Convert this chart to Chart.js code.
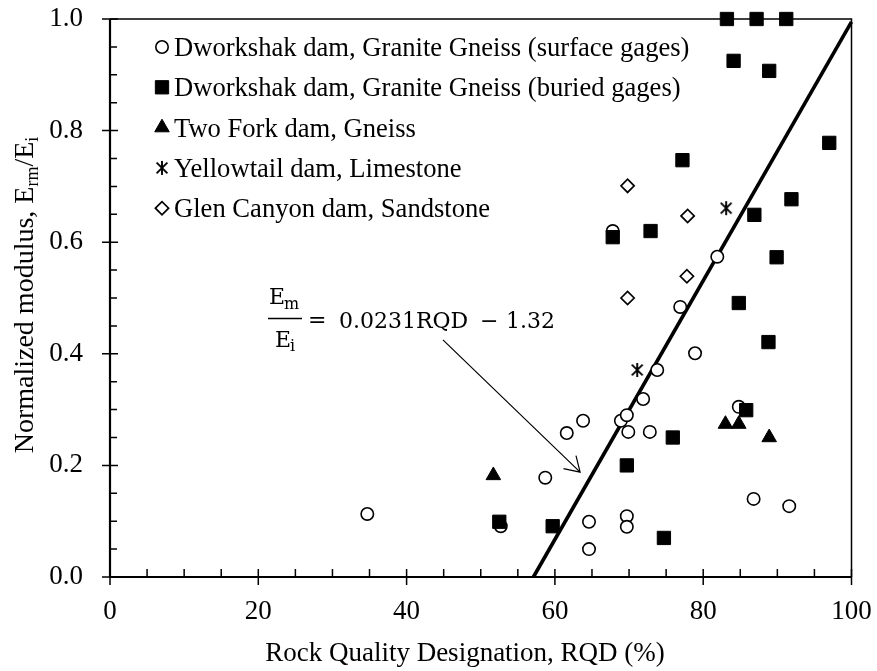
<!DOCTYPE html>
<html>
<head>
<meta charset="utf-8">
<title>Normalized modulus vs RQD</title>
<script src="https://cdn.jsdelivr.net/npm/chart.js@4.4.1/dist/chart.umd.min.js"></script>
<style>
    html, body { margin: 0; padding: 0; background: #fff; }
    #wrap { width: 877px; height: 671px; }
</style>
</head>
<body>
<div id="wrap"><canvas id="rqdChart" width="877" height="671"></canvas></div>
<script>
// values
const surfaceRqd   = [34.7, 52.7, 58.7, 61.6, 63.8, 64.6, 64.6, 67.8, 68.9, 69.7, 69.9, 69.7, 69.7, 71.9, 72.8, 73.8, 76.9, 78.9, 81.9, 84.8, 86.8, 91.6];
const surfaceRatio = [0.113, 0.091, 0.178, 0.258, 0.280, 0.099, 0.050, 0.620, 0.280, 0.290, 0.260, 0.109, 0.090, 0.319, 0.260, 0.371, 0.484, 0.401, 0.574, 0.305, 0.140, 0.127];

const buriedRqd   = [52.5, 59.7, 67.8, 69.7, 72.9, 74.7, 75.9, 77.2, 83.2, 84.1, 84.8, 85.8, 86.9, 87.2, 88.8, 88.9, 89.9, 91.2, 91.9, 97.0];
const buriedRatio = [0.099, 0.091, 0.609, 0.200, 0.620, 0.070, 0.250, 0.747, 1.000, 0.925, 0.491, 0.299, 0.649, 1.000, 0.421, 0.907, 0.573, 1.000, 0.677, 0.778];

const twoForkRqd   = [51.7, 83.0, 84.8, 88.9];
const twoForkRatio = [0.182, 0.274, 0.274, 0.250];

const yellowtailRqd   = [71.1, 83.1];
const yellowtailRatio = [0.371, 0.661];

const glenCanyonRqd   = [69.8, 69.8, 77.8, 77.9];
const glenCanyonRatio = [0.500, 0.701, 0.539, 0.647];

// Em/Ei = 0.0231 RQD - 1.32, drawn between its two ends in the plot
const fitRqd   = [57.1, 100];
const fitRatio = [0.0, 0.995];

const seriesNames = [
    'Dworkshak dam, Granite Gneiss (surface gages)',
    'Dworkshak dam, Granite Gneiss (buried gages)',
    'Two Fork dam, Gneiss',
    'Yellowtail dam, Limestone',
    'Glen Canyon dam, Sandstone'
];

const xTickValues = [0, 20, 40, 60, 80, 100];
const yTickValues = [0, 0.2, 0.4, 0.6, 0.8, 1.0];

const SERIF = '"Liberation Serif", "Times New Roman", serif';
const MATH = '"DejaVu Serif", serif';

function toPoints(xs, ys) {
    return xs.map((x, i) => ({ x: x, y: ys[i] }));
}

// six-armed star marker (X with a vertical bar)
function makeAsterisk() {
    const c = document.createElement('canvas');
    c.width = 18;
    c.height = 18;
    const g = c.getContext('2d');
    g.strokeStyle = '#000';
    g.lineWidth = 1.9;
    g.beginPath();
    g.moveTo(9, 2); g.lineTo(9, 16);
    g.moveTo(3.6, 3.6); g.lineTo(14.4, 14.4);
    g.moveTo(14.4, 3.6); g.lineTo(3.6, 14.4);
    g.stroke();
    return c;
}
const asterisk = makeAsterisk();

const markerStyles = [
    { pointStyle: 'circle', radius: 6.2, borderWidth: 1.6, backgroundColor: '#fff', borderColor: '#000' },
    { pointStyle: 'rect', radius: 9.4, borderWidth: 1, backgroundColor: '#000', borderColor: '#000' },
    { pointStyle: 'triangle', radius: 8.4, borderWidth: 1, backgroundColor: '#000', borderColor: '#000' },
    { pointStyle: asterisk, radius: 7, borderWidth: 1, backgroundColor: '#000', borderColor: '#000' },
    { pointStyle: 'rectRot', radius: 6.6, borderWidth: 1.7, backgroundColor: '#fff', borderColor: '#000' }
];

function scatterSet(i, xs, ys, order) {
    const m = markerStyles[i];
    return {
        label: seriesNames[i],
        data: toPoints(xs, ys),
        showLine: false,
        pointStyle: m.pointStyle,
        pointRadius: m.radius,
        pointHoverRadius: m.radius,
        pointBorderWidth: m.borderWidth,
        pointBackgroundColor: m.backgroundColor,
        pointBorderColor: m.borderColor,
        clip: false,
        order: order
    };
}

// box, crossing major ticks and inward minor ticks
const frameTicks = {
    id: 'frameTicks',
    beforeDatasetsDraw(chart) {
        const { ctx, chartArea: a, scales: { x, y } } = chart;
        ctx.save();
        ctx.strokeStyle = '#000';
        ctx.lineWidth = 1.5;
        ctx.beginPath();
        for (let v = 0; v <= 100; v += 5) {
            const px = x.getPixelForValue(v);
            if (v % 20 === 0) {
                ctx.moveTo(px, a.bottom - 8); ctx.lineTo(px, a.bottom + 8);
            } else {
                ctx.moveTo(px, a.bottom); ctx.lineTo(px, a.bottom - 8);
            }
        }
        for (let k = 0; k <= 20; k++) {
            const py = y.getPixelForValue(k * 0.05);
            if (k % 4 === 0) {
                ctx.moveTo(a.left - 8, py); ctx.lineTo(a.left + 8, py);
            } else {
                ctx.moveTo(a.left, py); ctx.lineTo(a.left + 7, py);
            }
        }
        ctx.stroke();

        ctx.lineWidth = 1.5;
        ctx.beginPath();
        ctx.moveTo(a.left, a.top); ctx.lineTo(a.right, a.top); ctx.lineTo(a.right, a.bottom);
        ctx.stroke();
        ctx.lineWidth = 2.2;
        ctx.beginPath();
        ctx.moveTo(a.left, a.top); ctx.lineTo(a.left, a.bottom); ctx.lineTo(a.right, a.bottom);
        ctx.stroke();
        ctx.restore();
    }
};

// equation label with its arrow
const equationNote = {
    id: 'equationNote',
    afterDatasetsDraw(chart) {
        const { ctx, scales: { x, y } } = chart;
        ctx.save();
        ctx.fillStyle = '#000';
        ctx.strokeStyle = '#000';
        ctx.textBaseline = 'alphabetic';
        ctx.textAlign = 'left';

        // fraction Em / Ei
        ctx.font = '22px ' + MATH;
        ctx.fillText('E', 269, 304);
        ctx.font = '16px ' + MATH;
        ctx.fillText('m', 284, 309);
        ctx.lineWidth = 1.5;
        ctx.beginPath();
        ctx.moveTo(268, 318.5); ctx.lineTo(302, 318.5);
        ctx.stroke();
        ctx.font = '22px ' + MATH;
        ctx.fillText('E', 275, 347);
        ctx.font = '16px ' + MATH;
        ctx.fillText('i', 290, 351);

        ctx.font = '22px ' + MATH;
        ctx.fillText('=', 308, 327);
        ctx.fillText('0.0231RQD', 339, 328);
        ctx.fillText('\u2212', 480, 328);
        ctx.fillText('1.32', 506, 328);

        // arrow, ends given in data units
        const x0 = x.getPixelForValue(44.9), y0 = y.getPixelForValue(0.425);
        const x1 = x.getPixelForValue(63.4), y1 = y.getPixelForValue(0.188);
        ctx.lineWidth = 1.2;
        ctx.beginPath();
        ctx.moveTo(x0, y0); ctx.lineTo(x1, y1);
        const ang = Math.atan2(y1 - y0, x1 - x0);
        const len = 17, spread = 32 * Math.PI / 180;
        ctx.moveTo(x1 - len * Math.cos(ang - spread), y1 - len * Math.sin(ang - spread));
        ctx.lineTo(x1, y1);
        ctx.lineTo(x1 - len * Math.cos(ang + spread), y1 - len * Math.sin(ang + spread));
        ctx.stroke();
        ctx.restore();
    }
};

// legend inside the plot, axis titles with subscripts
const labelsPlugin = {
    id: 'labelsPlugin',
    afterDraw(chart) {
        const { ctx } = chart;
        ctx.save();

        seriesNames.forEach((name, i) => {
            const m = markerStyles[i];
            const cy = 47 + i * 40.3;
            ctx.fillStyle = m.backgroundColor;
            ctx.strokeStyle = m.borderColor;
            ctx.lineWidth = m.borderWidth;
            Chart.helpers.drawPoint(ctx, { pointStyle: m.pointStyle, radius: m.radius, rotation: 0, borderWidth: m.borderWidth }, 162, cy);
            ctx.fillStyle = '#000';
            ctx.font = '26.6px ' + SERIF;
            ctx.textAlign = 'left';
            ctx.textBaseline = 'alphabetic';
            ctx.fillText(name, 174, cy + 9);
        });

        // x title
        ctx.fillStyle = '#000';
        ctx.font = '27px ' + SERIF;
        ctx.textAlign = 'center';
        ctx.textBaseline = 'alphabetic';
        ctx.fillText('Rock Quality Designation, RQD (%)', 465, 661);

        // y title, rotated, with subscripts
        const parts = [
            { t: 'Normalized modulus, E', f: 28, dy: 0 },
            { t: 'rm', f: 18, dy: 5 },
            { t: '/E', f: 28, dy: 0 },
            { t: 'i', f: 18, dy: 5 }
        ];
        let total = 0;
        parts.forEach(p => { ctx.font = p.f + 'px ' + SERIF; p.w = ctx.measureText(p.t).width; total += p.w; });
        ctx.translate(33, 295);
        ctx.rotate(-Math.PI / 2);
        ctx.textAlign = 'left';
        let cx = -total / 2;
        parts.forEach(p => {
            ctx.font = p.f + 'px ' + SERIF;
            ctx.fillText(p.t, cx, p.dy);
            cx += p.w;
        });
        ctx.restore();
    }
};

new Chart(document.getElementById('rqdChart').getContext('2d'), {
    type: 'scatter',
    data: {
        datasets: [
            scatterSet(0, surfaceRqd, surfaceRatio, 3),
            scatterSet(1, buriedRqd, buriedRatio, 2),
            scatterSet(2, twoForkRqd, twoForkRatio, 1),
            scatterSet(3, yellowtailRqd, yellowtailRatio, 1),
            scatterSet(4, glenCanyonRqd, glenCanyonRatio, 1),
            {
                label: 'fit',
                data: toPoints(fitRqd, fitRatio),
                showLine: true,
                borderColor: '#000',
                borderWidth: 3.6,
                pointRadius: 0,
                fill: false,
                clip: false,
                order: 5
            }
        ]
    },
    options: {
        responsive: false,
        animation: false,
        layout: { padding: { top: 19, right: 25.5, left: 0, bottom: 0 } },
        plugins: {
            legend: { display: false },
            tooltip: { enabled: false },
            title: { display: false }
        },
        scales: {
            x: {
                type: 'linear',
                min: 0,
                max: 100,
                afterBuildTicks: (scale) => { scale.ticks = xTickValues.map(v => ({ value: v })); },
                afterFit: (scale) => {
                    scale.height = 94;
                    scale.paddingLeft = 0;
                    scale.paddingRight = 0;
                    scale.paddingTop = 0;
                    scale.paddingBottom = 0;
                },
                grid: { display: false, drawTicks: false },
                border: { display: false },
                ticks: {
                    color: '#000',
                    padding: 19,
                    maxRotation: 0,
                    font: { family: SERIF, size: 27 }
                }
            },
            y: {
                type: 'linear',
                min: 0,
                max: 1,
                afterBuildTicks: (scale) => { scale.ticks = yTickValues.map(v => ({ value: v })); },
                afterFit: (scale) => {
                    scale.width = 110;
                    scale.paddingLeft = 0;
                    scale.paddingRight = 0;
                    scale.paddingTop = 0;
                    scale.paddingBottom = 0;
                },
                grid: { display: false, drawTicks: false },
                border: { display: false },
                ticks: {
                    color: '#000',
                    padding: 27,
                    font: { family: SERIF, size: 27 },
                    callback: (v) => Number(v).toFixed(1)
                }
            }
        }
    },
    plugins: [frameTicks, equationNote, labelsPlugin]
});
</script>
</body>
</html>
